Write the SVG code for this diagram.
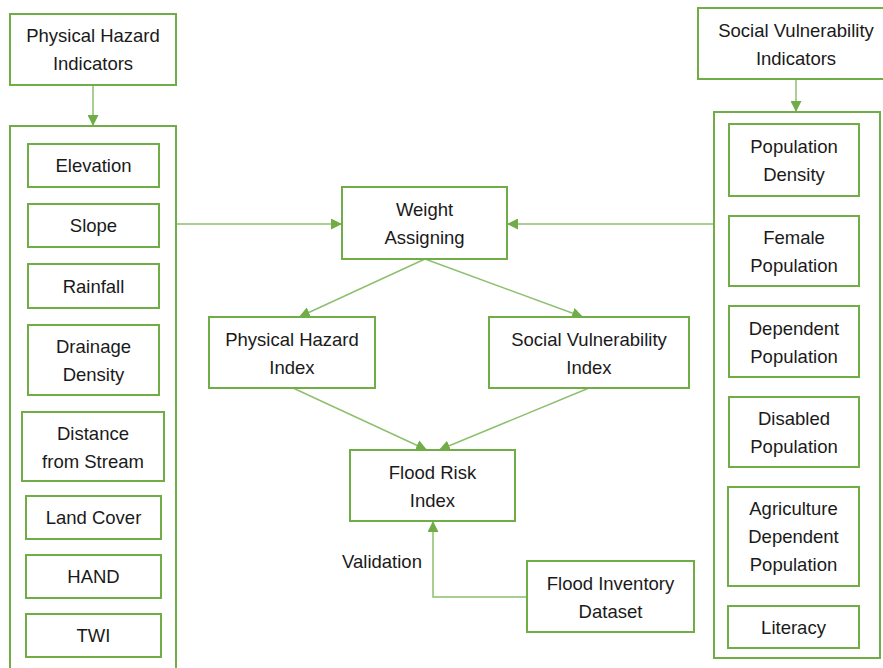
<svg xmlns="http://www.w3.org/2000/svg" width="883" height="668" viewBox="0 0 883 668">
  <style>
    .box { fill: #ffffff; stroke: #70ad47; stroke-width: 2; }
    .frame { fill: none; stroke: #70ad47; stroke-width: 2; }
    .lbl { font-family: "Liberation Sans", Arial, sans-serif; font-size: 18.5px; fill: #1a1a1a; text-anchor: middle; }
    .conn { fill: none; stroke: #8dc06c; stroke-width: 1.5; }
  </style>
  <defs>
    <marker id="arrow" markerUnits="userSpaceOnUse" markerWidth="11" markerHeight="11" refX="11" refY="5.5" orient="auto">
      <path d="M0,0 L11,5.5 L0,11 z" fill="#70ad47"/>
    </marker>
  </defs>
  <rect width="883" height="668" fill="#ffffff"/>

  <!-- connectors -->
  <g id="connectors">
    <line class="conn" x1="93" y1="85" x2="93" y2="126" marker-end="url(#arrow)"/>
    <line class="conn" x1="796" y1="79" x2="796" y2="112" marker-end="url(#arrow)"/>
    <line class="conn" x1="176" y1="224" x2="342" y2="224" marker-end="url(#arrow)"/>
    <line class="conn" x1="714" y1="224" x2="507" y2="224" marker-end="url(#arrow)"/>
    <line class="conn" x1="425" y1="259" x2="299" y2="317" marker-end="url(#arrow)"/>
    <line class="conn" x1="425" y1="259" x2="583" y2="317" marker-end="url(#arrow)"/>
    <line class="conn" x1="293" y1="388" x2="427" y2="450" marker-end="url(#arrow)"/>
    <line class="conn" x1="589" y1="388" x2="439" y2="450" marker-end="url(#arrow)"/>
    <polyline class="conn" points="527,597 433,597 433,521" marker-end="url(#arrow)"/>
    <text class="lbl" x="382" y="568">Validation</text>
  </g>

  <!-- physical hazard side -->
  <g id="physical-hazard-indicators">
    <rect class="box" x="10" y="14" width="166" height="71"/>
    <text class="lbl" x="93" y="42">Physical Hazard</text>
    <text class="lbl" x="93" y="70">Indicators</text>
  </g>
  <g id="physical-group">
    <rect class="frame" x="10" y="126" width="166" height="560"/>
  </g>
  <g id="elevation">
    <rect class="box" x="28" y="144" width="131" height="43"/>
    <text class="lbl" x="93.5" y="172">Elevation</text>
  </g>
  <g id="slope">
    <rect class="box" x="28" y="204" width="131" height="43"/>
    <text class="lbl" x="93.5" y="232">Slope</text>
  </g>
  <g id="rainfall">
    <rect class="box" x="28" y="264" width="131" height="44"/>
    <text class="lbl" x="93.5" y="292.5">Rainfall</text>
  </g>
  <g id="drainage-density">
    <rect class="box" x="28" y="325" width="131" height="70"/>
    <text class="lbl" x="93.5" y="353">Drainage</text>
    <text class="lbl" x="93.5" y="381">Density</text>
  </g>
  <g id="distance-from-stream">
    <rect class="box" x="22" y="412" width="142" height="69"/>
    <text class="lbl" x="93" y="439.5">Distance</text>
    <text class="lbl" x="93" y="467.5">from Stream</text>
  </g>
  <g id="land-cover">
    <rect class="box" x="26" y="496" width="135" height="43"/>
    <text class="lbl" x="93.5" y="524">Land Cover</text>
  </g>
  <g id="hand">
    <rect class="box" x="26" y="555" width="135" height="43"/>
    <text class="lbl" x="93.5" y="583">HAND</text>
  </g>
  <g id="twi">
    <rect class="box" x="26" y="614" width="135" height="43"/>
    <text class="lbl" x="93.5" y="642">TWI</text>
  </g>

  <!-- central flow -->
  <g id="weight-assigning">
    <rect class="box" x="342" y="187" width="165" height="72"/>
    <text class="lbl" x="424.5" y="216">Weight</text>
    <text class="lbl" x="424.5" y="244">Assigning</text>
  </g>
  <g id="physical-hazard-index">
    <rect class="box" x="209" y="317" width="166" height="71"/>
    <text class="lbl" x="292" y="345.5">Physical Hazard</text>
    <text class="lbl" x="292" y="373.5">Index</text>
  </g>
  <g id="social-vulnerability-index">
    <rect class="box" x="489" y="317" width="200" height="71"/>
    <text class="lbl" x="589" y="345.5">Social Vulnerability</text>
    <text class="lbl" x="589" y="373.5">Index</text>
  </g>
  <g id="flood-risk-index">
    <rect class="box" x="350" y="450" width="165" height="71"/>
    <text class="lbl" x="432.5" y="478.5">Flood Risk</text>
    <text class="lbl" x="432.5" y="506.5">Index</text>
  </g>
  <g id="flood-inventory-dataset">
    <rect class="box" x="527" y="561" width="167" height="71"/>
    <text class="lbl" x="610.5" y="589.5">Flood Inventory</text>
    <text class="lbl" x="610.5" y="617.5">Dataset</text>
  </g>

  <!-- social vulnerability side -->
  <g id="social-vulnerability-indicators">
    <rect class="box" x="698" y="8" width="196" height="71"/>
    <text class="lbl" x="796" y="36.5">Social Vulnerability</text>
    <text class="lbl" x="796" y="64.5">Indicators</text>
  </g>
  <g id="social-group">
    <rect class="frame" x="714" y="112" width="166" height="546"/>
  </g>
  <g id="population-density">
    <rect class="box" x="729" y="124" width="130" height="72"/>
    <text class="lbl" x="794" y="153">Population</text>
    <text class="lbl" x="794" y="181">Density</text>
  </g>
  <g id="female-population">
    <rect class="box" x="729" y="216" width="130" height="70"/>
    <text class="lbl" x="794" y="244">Female</text>
    <text class="lbl" x="794" y="272">Population</text>
  </g>
  <g id="dependent-population">
    <rect class="box" x="729" y="306" width="130" height="71"/>
    <text class="lbl" x="794" y="334.5">Dependent</text>
    <text class="lbl" x="794" y="362.5">Population</text>
  </g>
  <g id="disabled-population">
    <rect class="box" x="729" y="397" width="130" height="70"/>
    <text class="lbl" x="794" y="425">Disabled</text>
    <text class="lbl" x="794" y="453">Population</text>
  </g>
  <g id="agriculture-dependent-population">
    <rect class="box" x="728" y="487" width="131" height="99"/>
    <text class="lbl" x="793.5" y="515">Agriculture</text>
    <text class="lbl" x="793.5" y="543">Dependent</text>
    <text class="lbl" x="793.5" y="571">Population</text>
  </g>
  <g id="literacy">
    <rect class="box" x="728" y="606" width="131" height="42"/>
    <text class="lbl" x="793.5" y="633.5">Literacy</text>
  </g>
</svg>
